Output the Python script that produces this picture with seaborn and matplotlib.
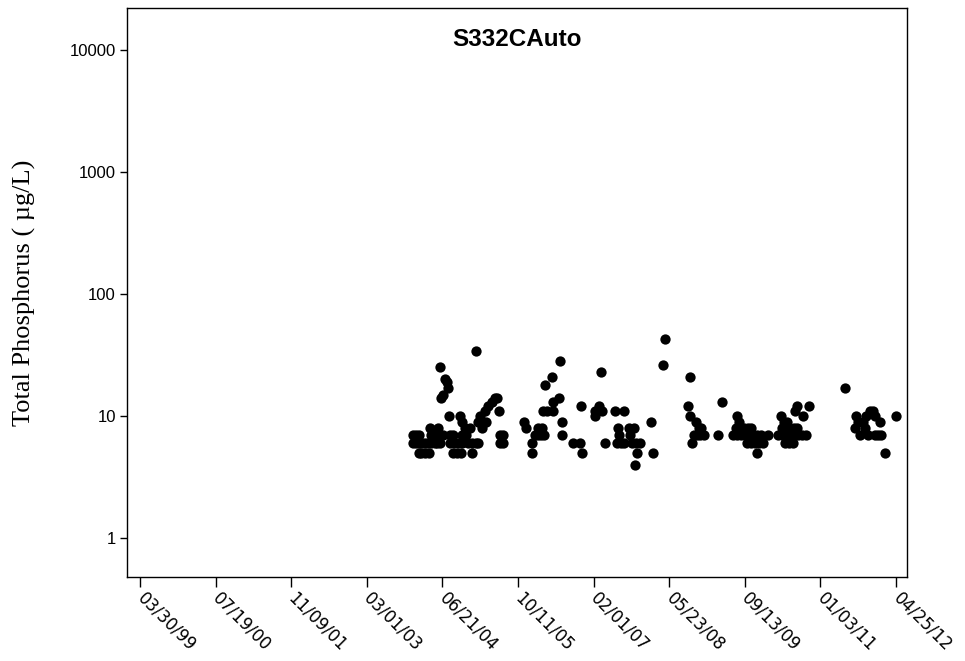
import matplotlib
matplotlib.use("Agg")
import matplotlib.pyplot as plt
import seaborn as sns
import pandas as pd
from matplotlib.ticker import NullLocator

# ---------------- data ----------------
dates_2004 = [
    "2003-12-21", "2004-01-09", "2004-01-28", "2004-04-13", "2004-05-02", "2004-05-20",
    "2004-06-08", "2004-06-27", "2004-08-10", "2004-08-29", "2004-10-25", "2004-11-19",
    "2003-12-21", "2004-01-09", "2004-01-28", "2004-02-16", "2004-03-06", "2004-03-25",
    "2004-04-13", "2004-05-02", "2004-05-20", "2004-06-08", "2004-08-10", "2004-09-05",
    "2004-09-30", "2004-10-25", "2004-12-02", "2004-12-27", "2005-01-22", "2005-02-03",
    "2004-01-22", "2004-02-09", "2004-03-06", "2004-03-31", "2004-08-29", "2004-09-24",
    "2004-10-19", "2004-12-27",
    "2004-04-06", "2004-05-27", "2004-11-13", "2004-12-15", "2005-02-28",
    "2004-10-25", "2005-02-03", "2005-03-26",
    "2004-08-04", "2004-10-13", "2005-02-16",
    "2005-03-19", "2005-06-16", "2005-04-07", "2005-05-03",
    "2004-06-15", "2005-05-21", "2005-06-03", "2004-06-27", "2004-07-29", "2004-07-23",
    "2004-07-10", "2004-06-08", "2005-01-22",
    "2005-06-22", "2005-07-11", "2005-06-22", "2005-07-11",
]
tp_2004 = [
    7, 7, 7, 7, 7, 7, 7, 7, 7, 7, 7, 7,
    6, 6, 6, 6, 6, 6, 6, 6, 6, 6, 6, 6, 6, 6, 6, 6, 6, 6,
    5, 5, 5, 5, 5, 5, 5, 5,
    8, 8, 8, 8, 8,
    9, 9, 9,
    10, 10, 10,
    11, 11, 12, 13,
    14, 14, 14, 15, 17, 19,
    20, 25, 34,
    7, 7, 6, 6,
]

dates_2006 = [
    "2005-11-18", "2005-11-30", "2006-01-07", "2006-01-07", "2006-01-26", "2006-02-14",
    "2006-03-05", "2006-03-24", "2006-02-14", "2006-03-11", "2006-03-18", "2006-04-12",
    "2006-05-20", "2006-03-30", "2006-05-14", "2006-05-20", "2006-06-27", "2006-07-03",
    "2006-07-16", "2006-07-16", "2006-09-23", "2006-11-06", "2006-11-19", "2006-11-13",
]
tp_2006 = [9, 8, 6, 5, 7, 7, 7, 7, 8, 8, 11, 11, 11, 18, 21, 13, 14, 28, 9, 7, 6, 6, 5, 12]

dates_2007 = [
    "2007-02-07", "2007-02-07", "2007-03-05", "2007-03-17", "2007-03-23", "2007-04-11",
    "2007-06-14", "2007-08-09", "2007-07-02", "2007-07-09", "2007-06-26", "2007-07-21",
    "2007-08-09", "2007-09-10", "2007-10-11", "2007-09-16", "2007-09-29", "2007-10-24",
    "2007-11-18", "2007-10-30", "2007-10-18", "2008-01-27", "2008-02-08",
]
tp_2007 = [10, 11, 12, 23, 11, 6, 11, 11, 8, 7, 6, 6, 6, 8, 8, 7, 6, 6, 6, 5, 4, 9, 5]

dates_2008 = [
    "2008-04-15", "2008-04-28", "2008-10-03", "2008-09-20", "2008-10-03", "2008-11-09",
    "2008-11-28", "2008-12-11", "2008-10-28", "2008-11-16", "2008-12-05", "2008-12-30",
    "2008-10-15", "2009-03-28", "2009-04-22",
]
tp_2008 = [26, 43, 21, 12, 10, 9, 8, 8, 7, 7, 7, 7, 6, 7, 13]

dates_2009 = [
    "2009-07-25", "2009-08-06",
    "2009-07-18", "2009-08-12", "2009-09-07", "2009-10-02", "2009-10-21",
    "2009-06-29", "2009-07-25", "2009-08-19", "2009-09-13", "2009-10-08", "2009-11-02",
    "2009-11-28", "2009-12-23", "2010-02-05",
    "2009-09-26", "2009-10-21", "2009-11-15", "2009-12-10", "2010-01-05",
    "2009-11-28",
]
tp_2009 = [10, 9, 8, 8, 8, 8, 8, 7, 7, 7, 7, 7, 7, 7, 7, 7, 6, 6, 6, 6, 6, 5]

dates_2010 = [
    "2010-05-02", "2010-05-21", "2010-06-09",
    "2010-05-08", "2010-06-21", "2010-07-23", "2010-08-11",
    "2010-04-13", "2010-05-08", "2010-06-02", "2010-06-28", "2010-07-23", "2010-08-17",
    "2010-09-11", "2010-10-07",
    "2010-05-27", "2010-06-21", "2010-07-17",
    "2010-07-29", "2010-08-11", "2010-09-18", "2010-10-26",
]
tp_2010 = [10, 9, 9, 8, 8, 8, 8, 7, 7, 7, 7, 7, 7, 7, 7, 6, 6, 6, 11, 12, 10, 12]

dates_2011 = [
    "2011-06-08", "2011-08-10", "2011-08-17", "2011-08-29", "2011-09-11", "2011-09-30",
    "2011-10-12", "2011-10-19", "2011-10-31", "2011-11-13", "2011-12-02", "2011-12-14",
    "2011-12-14", "2012-01-02", "2012-01-15", "2012-01-21", "2012-02-16", "2012-04-25",
]
tp_2011 = [17, 8, 10, 9, 7, 9, 8, 10, 7, 11, 11, 10, 7, 7, 9, 7, 5, 10]

x_tick_dates = ["1999-03-30", "2000-07-19", "2001-11-09", "2003-03-01", "2004-06-21",
                "2005-10-11", "2007-02-01", "2008-05-23", "2009-09-13", "2011-01-03",
                "2012-04-25"]
x_tick_labels = ["03/30/99", "07/19/00", "11/09/01", "03/01/03", "06/21/04", "10/11/05",
                 "02/01/07", "05/23/08", "09/13/09", "01/03/11", "04/25/12"]
y_ticks = [1, 10, 100, 1000, 10000]
y_tick_labels = ["1", "10", "100", "1000", "10000"]

title = "S332CAuto"
y_label = "Total Phosphorus ( µg/L)"

# ---------------- build table ----------------
all_dates = dates_2004 + dates_2006 + dates_2007 + dates_2008 + dates_2009 + dates_2010 + dates_2011
all_tp = tp_2004 + tp_2006 + tp_2007 + tp_2008 + tp_2009 + tp_2010 + tp_2011
df = pd.DataFrame({"date": pd.to_datetime(all_dates), "tp": all_tp})

# ---------------- plot ----------------
sns.set_theme(style="white")
plt.rcParams['font.family'] = ['Liberation Sans', 'DejaVu Sans']

fig = plt.figure(figsize=(9.65, 6.61), dpi=100)
ax = fig.add_axes([127 / 965, 1 - 577 / 661, 780 / 965, 569 / 661])

sns.scatterplot(data=df, x="date", y="tp", color="black", s=55, linewidth=0,
                legend=False, ax=ax)

ax.set_yscale("log")
ax.set_ylim(0.48, 22000)
ax.set_xlim(pd.Timestamp("1999-01-07"), pd.Timestamp("2012-07-03"))

ax.set_yticks(y_ticks)
ax.set_yticklabels(y_tick_labels, fontsize=12)
ax.yaxis.set_minor_locator(NullLocator())

ax.set_xticks(pd.to_datetime(x_tick_dates))
ax.set_xticklabels(x_tick_labels, rotation=-45, ha="left", va="center",
                   rotation_mode="anchor", fontsize=12, fontfamily="DejaVu Sans")
ax.xaxis.set_minor_locator(NullLocator())

ax.tick_params(axis="both", which="major", direction="out", bottom=True, left=True,
               length=6, width=1, color="black", labelcolor="black")
ax.tick_params(axis="y", length=5, pad=3)
ax.tick_params(axis="x", length=7, pad=6)

for sp in ax.spines.values():
    sp.set_visible(True)
    sp.set_color("black")
    sp.set_linewidth(1)

ax.set_xlabel("")
ax.set_ylabel(y_label, fontfamily="Liberation Serif", fontsize=19, color="black", va="center")
ax.yaxis.set_label_coords(-0.131, 0.5)

ax.text(0.5, 0.944, title, transform=ax.transAxes, ha="center", va="center",
        fontsize=17.5, fontweight="bold", color="black")

fig.savefig("out.png", dpi=100)
